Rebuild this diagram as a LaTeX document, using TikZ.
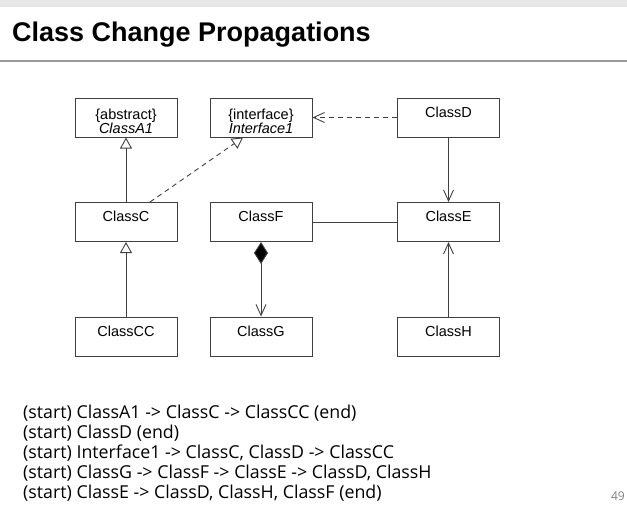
\documentclass[tikz,border=0pt]{standalone}
\usepackage{fontspec}
\setmainfont{Liberation Sans}
\newfontfamily\notefont{Open Sans}
\usepackage{xcolor}
\usetikzlibrary{shapes,arrows.meta,positioning}

\definecolor{lineclr}{HTML}{404040}
\definecolor{bandclr}{HTML}{E6E6E6}
\definecolor{ruleclr}{HTML}{999999}
\newcommand{\umlhead}[2]{\vbox{\baselineskip=14pt\hbox to 100pt{\hfil#1\hfil}\hbox to 100pt{\hfil\itshape#2\hfil}}}

\begin{document}
\begin{tikzpicture}[x=1pt, y=-1pt, node distance=135pt]
        \tikzstyle{cls} = [rectangle, draw=lineclr, line width=1pt, minimum width=102pt,
            minimum height=39pt, inner sep=0pt, font=\fontsize{14.5}{14}\selectfont,
            text height=10pt, text depth=11pt]
        \tikzstyle{absclass} = [cls, text height=31pt, text depth=0pt]
        \tikzstyle{note} = [anchor=base west, inner sep=0pt, font=\notefont\fontsize{17.8}{20}\selectfont]
        \tikzstyle{line} = [draw=lineclr, line width=0.9pt]
        \tikzstyle{inherit} = [line, -{Triangle[open, length=11pt, width=12pt]}]
        \tikzstyle{realize} = [inherit, dash pattern=on 5pt off 4pt]
        \tikzstyle{depend} = [line, dash pattern=on 5pt off 4pt, -{Straight Barb[length=11pt, width=10pt]}]
        \tikzstyle{assoc} = [line, -{Straight Barb[length=11pt, width=10pt]}]
        \tikzstyle{compose} = [assoc, {Diamond[length=22pt, width=14pt, fill=black]}-{Straight Barb[length=11pt, width=10pt]}]

        % header
        \useasboundingbox (0,0) rectangle (627,514);
        \fill[bandclr] (0,0) rectangle (627,7);
        \draw[ruleclr, line width=1.5pt] (0,61) -- (627,61);
        \node[anchor=base west, inner sep=0pt, font=\bfseries\fontsize{27}{30}\selectfont] (title) at (12,41) {Class Change Propagations};

        % classes
        \node [absclass] (A1) at (126,117.5) {\umlhead{\{abstract\}}{ClassA1}};
        \node [absclass, right of=A1] (I1) {\umlhead{\{interface\}}{Interface1}};
        \node [cls, right of=I1, node distance=187.5pt] (D) {ClassD};
        \node [cls, below of=A1, node distance=104.5pt] (C) {ClassC};
        \node [cls, right of=C] (F) {ClassF};
        \node [cls, below of=D, node distance=104.5pt] (E) {ClassE};
        \node [cls, below of=C, node distance=114.5pt] (CC) {ClassCC};
        \node [cls, right of=CC] (G) {ClassG};
        \node [cls, below of=E, node distance=114.5pt] (H) {ClassH};

        % relations
        \path [inherit] (C) -- (A1);
        \path [inherit] (CC) -- (C);
        \path [realize] ([xshift=24pt]C.north) -- ([xshift=-18pt]I1.south);
        \path [depend] (D) -- (I1);
        \path [assoc] (D) -- (E);
        \path [assoc] (H) -- (E);
        \path [line] (F) -- (E);
        \path [compose] (F) -- (G);

        % propagations
        \node [note] (p1) at (23,418) {(start) ClassA1 -> ClassC -> ClassCC (end)};
        \node [note] (p2) at (23,438) {(start) ClassD (end)};
        \node [note] (p3) at (23,458) {(start) Interface1 -> ClassC, ClassD -> ClassCC};
        \node [note] (p4) at (23,478) {(start) ClassG -> ClassF -> ClassE -> ClassD, ClassH};
        \node [note] (p5) at (23,498) {(start) ClassE -> ClassD, ClassH, ClassF (end)};
        \node [anchor=base east, inner sep=0pt, text=gray, font=\notefont\fontsize{12}{12}\selectfont] (page) at (625,500) {49};
      \end{tikzpicture}
\end{document}
